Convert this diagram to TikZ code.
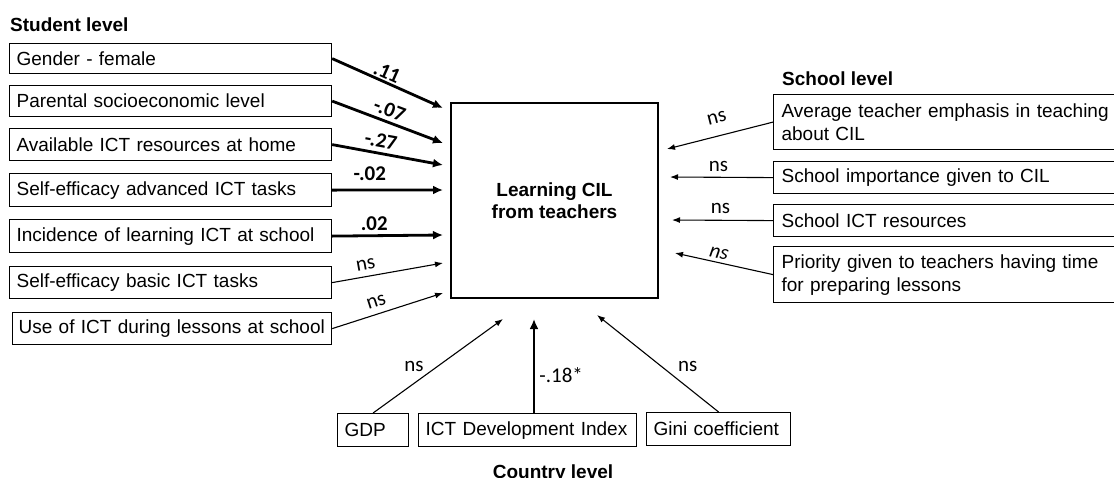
\documentclass[tikz,border=0pt]{standalone}
\usepackage{fontspec}
\setmainfont{Liberation Sans}
\newfontfamily\coeffont{Carlito}
\usetikzlibrary{arrows.meta}

\begin{document}
\begin{tikzpicture}[x=1pt, y=-1pt,
  varbox/.style={draw, line width=1.2pt, align=left, anchor=north west,
    inner xsep=7pt, inner ysep=0pt, font=\fontsize{19}{23}\selectfont},
  levelttl/.style={font=\fontsize{19}{23}\selectfont\bfseries, inner sep=0pt},
  strong/.style={line width=2.8pt, -{Latex[length=10pt,width=9pt]}},
  weak/.style={line width=1.1pt, -{Latex[length=8pt,width=6pt]}},
  coef/.style={font=\fontsize{21}{24}\selectfont\coeffont\bfseries, inner sep=0pt, sloped},
  nslab/.style={font=\fontsize{21}{24}\selectfont\coeffont, inner sep=0pt}]

  \useasboundingbox (0,0) rectangle (1114,477);

  %% ---- Parameters ----
  \pgfmathsetmacro{\stw}{308}   % text width, student boxes
  \pgfmathsetmacro{\scw}{340}   % text width, school boxes
  \pgfmathsetmacro{\tipx}{443}  % arrow tips left of the outcome

  %% ---- Outcome ----
  \node[draw, line width=1.2pt, minimum width=207pt, minimum height=195pt,
        font=\fontsize{19}{22}\selectfont\bfseries, align=center]
    (cil) at (554.5,200.5) {Learning CIL\\from teachers};

  %% ---- Student level ----
  \node[levelttl, anchor=base west] (studentlvl) at (10,31) {Student level};
  \node[varbox, text width=\stw pt, minimum height=30pt] (gender)    at (9,43)  {Gender - female};
  \node[varbox, text width=\stw pt, minimum height=31pt] (parental)  at (9,85)  {Parental socioeconomic level};
  \node[varbox, text width=\stw pt, minimum height=32pt] (homeict)   at (9,128) {Available ICT resources at home};
  \node[varbox, text width=\stw pt, minimum height=33pt] (effadv)    at (9,173) {Self-efficacy advanced ICT tasks};
  \node[varbox, text width=\stw pt, minimum height=33pt] (incidence) at (9,219) {Incidence of learning ICT at school};
  \node[varbox, text width=\stw pt, minimum height=32pt] (effbasic)  at (9,266) {Self-efficacy basic ICT tasks};
  \node[varbox, inner xsep=6pt, text width=307pt, minimum height=32pt] (useict) at (12,312)
    {Use of ICT during lessons at school};

  \coordinate (in1) at (\tipx,108);
  \coordinate (in2) at (\tipx,143);
  \coordinate (in3) at (\tipx,165);
  \coordinate (in4) at (\tipx,190);
  \coordinate (in5) at (\tipx,235);
  \coordinate (in6) at (\tipx,263);
  \coordinate (in7) at (\tipx,293);

  \draw[strong] (gender.east)    -- (in1) node[coef, pos=0.46, above=1.5pt] {.11};
  \draw[strong] (parental.east)  -- (in2) node[coef, pos=0.48, above=3.5pt] {-.07};
  \draw[strong] (homeict.east)   -- (in3) node[coef, pos=0.42, above=4.5pt] {-.27};
  \draw[strong] (effadv.east)    -- (in4) node[coef, pos=0.34, above=8pt]   {-.02};
  \draw[strong] (incidence.east) -- (in5) node[coef, pos=0.38, above=3.5pt] {.02};
  \draw[weak]   (effbasic.east)  -- (in6) node[nslab, sloped, pos=0.32, above=6pt] {ns};
  \draw[weak]   (useict.east)    -- (in7) node[nslab, sloped, pos=0.43, above=6pt] {ns};

  %% ---- School level ----
  \node[levelttl, anchor=base west] (schoollvl) at (782,85) {School level};
  \node[varbox, inner xsep=8pt, text width=\scw pt, minimum height=55pt] (emphasis) at (773,94)
    {Average teacher emphasis in teaching\\about CIL};
  \node[varbox, inner xsep=8pt, text width=\scw pt, minimum height=32pt] (importance) at (773,161)
    {School importance given to CIL};
  \node[varbox, inner xsep=8pt, text width=\scw pt, minimum height=32pt] (schoolict) at (773,204)
    {School ICT resources};
  \node[varbox, inner xsep=8pt, text width=\scw pt, minimum height=56pt] (priority) at (773,246)
    {Priority given to teachers having time\\for preparing lessons};

  \coordinate (sc1) at (667,149);
  \coordinate (sc2) at (670,177);
  \coordinate (sc3) at (672,220);
  \coordinate (sc4) at (675,253);

  \draw[weak] (emphasis.west)   -- (sc1) node[nslab, sloped, pos=0.49, above=12pt] {ns};
  \draw[weak] (importance.west) -- (sc2) node[nslab, pos=0.53, above=5pt] {ns};
  \draw[weak] (schoolict.west)  -- (sc3) node[nslab, pos=0.52, above=6pt] {ns};
  \draw[weak] (priority.west)   -- (sc4) node[nslab, sloped, pos=0.57, above=3pt] {\itshape ns};

  %% ---- Country level ----
  \node[varbox, text width=57pt,  minimum height=33pt] (gdp)  at (337,413) {GDP};
  \node[varbox, text width=204pt, minimum height=33pt] (idi)  at (418,413) {ICT Development Index};
  \node[varbox, text width=130pt, minimum height=33pt] (gini) at (646,412) {Gini coefficient};
  \node[levelttl, anchor=base] (countrylvl) at (553,478) {Country level};

  \coordinate (up1) at (503,319);
  \coordinate (up2) at (534,319);
  \coordinate (up3) at (597,315);

  \draw[weak]   (gdp.north)        -- (up1) node[nslab, pos=0.5,  left=14pt] {ns};
  \draw[strong] (up2 |- idi.north) -- (up2) node[nslab, pos=0.4,  right=4pt] {-.18*};
  \draw[weak]   (gini.north)       -- (up3) node[nslab, pos=0.47, right=16pt] {ns};

\end{tikzpicture}
\end{document}
